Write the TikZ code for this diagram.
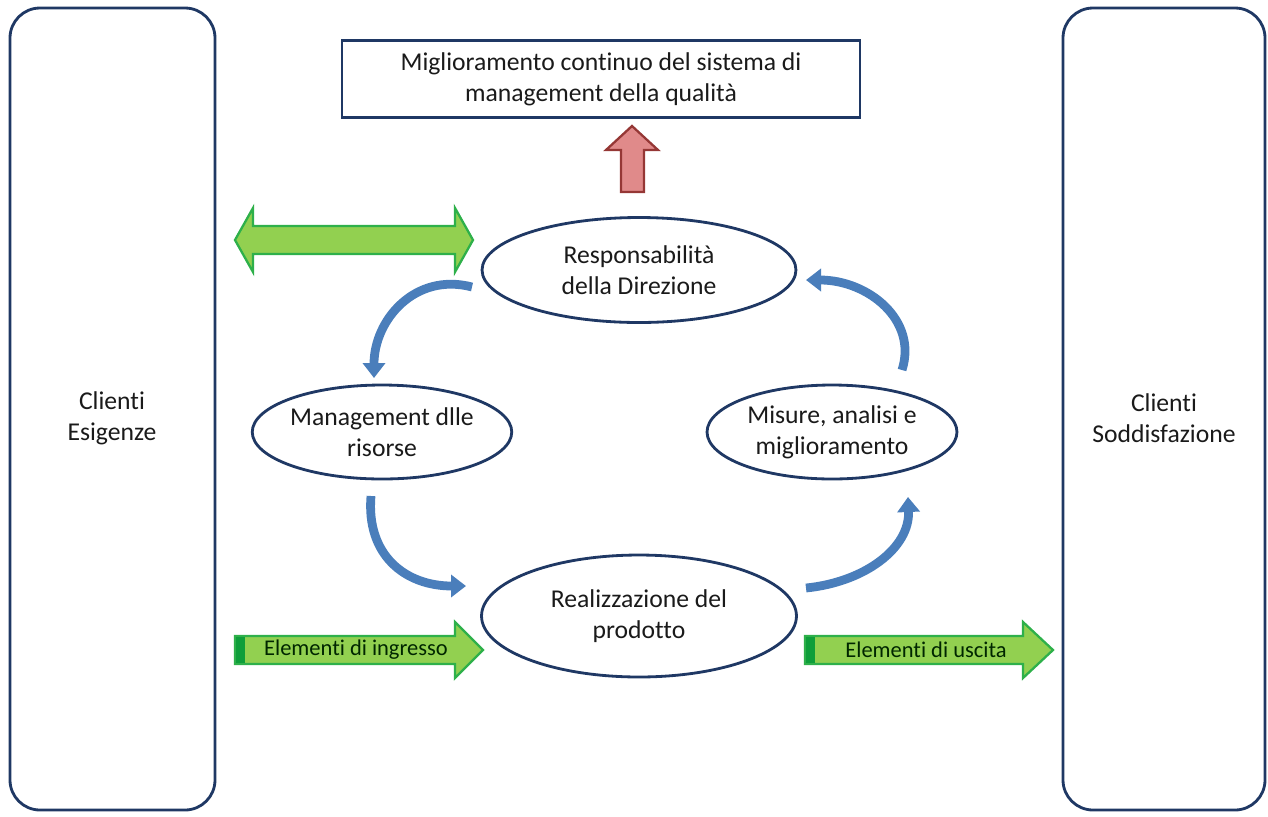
\documentclass[tikz,border=0pt]{standalone}
\usepackage{fontspec}
\setmainfont{Carlito}[Ligatures=CommonOff]
\usetikzlibrary{shapes.geometric,arrows.meta}
\definecolor{navy}{HTML}{1F3864}
\definecolor{txt}{HTML}{1A1A1A}
\definecolor{lime}{HTML}{92D050}
\definecolor{grn}{HTML}{2EB04A}
\definecolor{dgrn}{HTML}{0E9E3A}
\definecolor{pinkred}{HTML}{E08A8A}
\definecolor{darkred}{HTML}{953735}
\definecolor{cblue}{HTML}{4A7EBB}
\definecolor{cbluedk}{HTML}{385D8A}
\tikzset{
  sidebox/.style={draw=navy, line width=1.6pt, rounded corners=0.6cm},
  oval/.style={ellipse, draw=navy, line width=1.6pt, fill=white, inner sep=0pt,
    align=center, text=txt, font=\fontsize{14.6pt}{17.5pt}\selectfont},
  label/.style={align=center, text=txt, font=\fontsize{14.6pt}{17.5pt}\selectfont},
  greenarrow/.style={fill=lime, draw=grn, line width=1.3pt, line join=miter},
  arrowtext/.style={text=black!85!green, font=\fontsize{12.8pt}{14pt}\selectfont},
  cycle arrow/.style={draw=cblue, line width=5pt, line cap=butt,
    -{Triangle[width=0.44cm,length=0.3cm]}},
}
\begin{document}
\begin{tikzpicture}[x=0.02cm, y=-0.02cm]
\useasboundingbox (0,0) rectangle (1268,816);

% customers on either side
\draw[sidebox] (10,8) rectangle (215,810);
\node[label] (inL) at (112,418) {Clienti\\Esigenze};
\draw[sidebox] (1063,8) rectangle (1265,810);
\node[label] (outR) at (1164,418) {Clienti\\Soddisfazione};

% continual improvement box
\node[draw=navy, line width=1.6pt, minimum width=10.36cm, minimum height=1.54cm,
  label, inner sep=0pt] (top) at (601,79)
  {Miglioramento continuo del sistema di\\management della qualità};

% upward arrow into the improvement box
\draw[fill=pinkred, draw=darkred, line width=1.3pt]
  (621,192) -- (621,150) -- (606,150) -- (632,126) -- (658,150) -- (644,150)
  -- (644,192) -- cycle;

% process ellipses
\node[oval, minimum width=6.28cm, minimum height=2.1cm] (resp) at (639,270)
  {Responsabilità\\della Direzione};
\node[oval, minimum width=5.1cm, minimum height=1.88cm] (ris) at (382,432)
  {Management dlle\\risorse};
\node[oval, minimum width=5.0cm, minimum height=1.88cm] (mis) at (832,432)
  {Misure, analisi e\\miglioramento};
\node[oval, minimum width=6.3cm, minimum height=2.44cm] (real) at (639,616)
  {Realizzazione del\\prodotto};

% two-way link between customers and management
\draw[greenarrow]
  (235,240) -- (253,208) -- (253,226) -- (455,226) -- (455,208) -- (473,240)
  -- (455,272) -- (455,254) -- (253,254) -- (253,272) -- cycle;

% inputs
\draw[greenarrow]
  (235,636) -- (455,636) -- (455,622) -- (483,650) -- (455,678) -- (455,664)
  -- (235,664) -- cycle;
\fill[dgrn] (235.6,636.6) rectangle (245,663.4);
\node[arrowtext] (inp) at (356,650) {Elementi di ingresso};

% outputs
\draw[greenarrow]
  (805,636) -- (1023,636) -- (1023,622) -- (1053,650) -- (1023,678) -- (1023,664)
  -- (805,664) -- cycle;
\fill[dgrn] (805.6,636.6) rectangle (815,663.4);
\node[arrowtext] (outp) at (926,650) {Elementi di uscita};

% PDCA cycle arrows
\coordinate (a1s) at (472,287);
\coordinate (a1e) at (374,378);
\coordinate (a2s) at (371,496);
\coordinate (a2e) at (466,586);
\coordinate (a3s) at (806,588);
\coordinate (a3e) at (908,497);
\coordinate (a4s) at (902,370);
\coordinate (a4e) at (806,280);
\draw[cycle arrow] (a1s) .. controls (415,272) and (374,320) .. (a1e);
\draw[cycle arrow] (a2s) .. controls (366,555) and (405,586) .. (a2e);
\draw[cycle arrow] (a3s) .. controls (865,582) and (910,548) .. (a3e);
\draw[cycle arrow] (a4s) .. controls (918,320) and (868,280) .. (a4e);
\end{tikzpicture}
\end{document}
